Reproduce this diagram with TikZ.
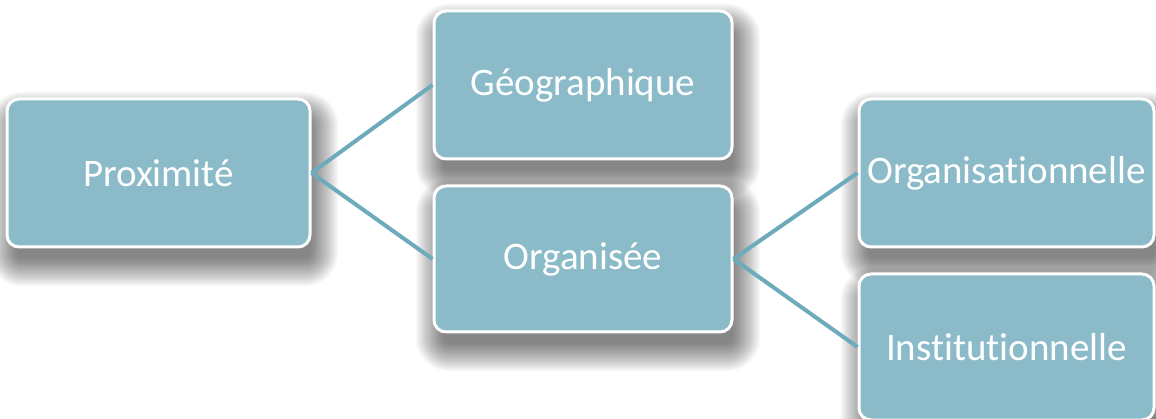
\documentclass[tikz,border=0pt]{standalone}
\usepackage{fontspec}
\setmainfont[Ligatures=NoCommon]{Carlito}
\usetikzlibrary{backgrounds,calc}
\definecolor{boxc}{HTML}{8BBBC9}
\definecolor{linec}{HTML}{6DAABC}
\tikzset{
  box/.style={draw=white, line width=3pt, fill=boxc, rounded corners=12pt,
    text=white, font=\fontsize{39}{45}\selectfont, inner sep=0pt},
  conn/.style={draw=linec, line width=4pt},
  softshadow/.style={fill=black, opacity=0.02}
}
\begin{document}
\begin{tikzpicture}[x=1pt,y=-1pt]
\useasboundingbox (0,0) rectangle (1156,419);
\node[box, minimum width=303pt, minimum height=148pt] (prox) at (158.5,173) {Proximité};
\node[box, minimum width=298pt, minimum height=148pt] (geo) at (583,85) {Géographique};
\node[box, minimum width=298pt, minimum height=146pt] (org) at (583,259) {Organisée};
\node[box, minimum width=295pt, minimum height=148pt] (orgn) at (1006.5,173) {Organisationnelle};
\node[box, minimum width=295pt, minimum height=146pt] (inst) at (1006.5,347) {Institutionnelle};
\begin{scope}[on background layer]
\fill[white] (0,0) rectangle (1156,419);
\foreach \n in {prox,geo,org,orgn,inst}{
  \foreach \i in {-6,...,22}{
    \pgfmathsetmacro{\r}{max(12+\i,4)}
    \fill[softshadow, rounded corners=\r pt]
      ($(\n.south west)+(5-\i,16+\i)$) rectangle ($(\n.north east)+(5+\i,16-\i)$);
  }
}
\end{scope}
\draw[conn] (prox.east) -- (geo.west);
\draw[conn] (prox.east) -- (org.west);
\draw[conn] (org.east) -- (orgn.west);
\draw[conn] (org.east) -- (inst.west);
\end{tikzpicture}
\end{document}
